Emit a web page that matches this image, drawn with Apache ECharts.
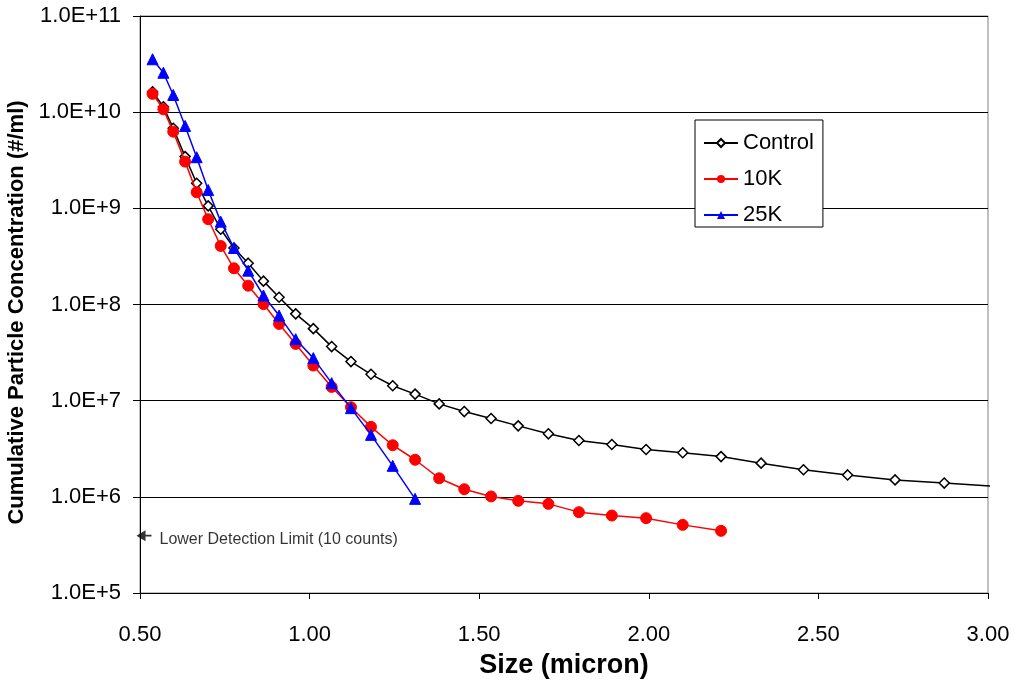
<!DOCTYPE html>
<html>
<head>
<meta charset="utf-8">
<script src="https://cdn.jsdelivr.net/npm/echarts@6/dist/echarts.min.js"></script>
<style>
  html, body { margin: 0; padding: 0; background: #fff; }
  #main { width: 1015px; height: 689px; }
</style>
</head>
<body>
<div id="main"></div>
<script>
// particle size channels (micron)
const sizes = [0.537, 0.569, 0.598, 0.633, 0.667, 0.701, 0.738, 0.777, 0.819, 0.864,
  0.910, 0.959, 1.011, 1.065, 1.122, 1.181, 1.245, 1.311, 1.382, 1.456,
  1.535, 1.615, 1.704, 1.794, 1.891, 1.992, 2.100, 2.213, 2.331, 2.456,
  2.586, 2.726, 2.871, 3.024]

const control = [1.63e10, 1.14e10, 6.8e9, 3.45e9, 1.82e9, 1.06e9, 6.06e8, 3.87e8, 2.69e8, 1.75e8,
  1.19e8, 7.99e7, 5.61e7, 3.65e7, 2.55e7, 1.88e7, 1.43e7, 1.17e7, 9.26e6, 7.70e6,
  6.52e6, 5.47e6, 4.52e6, 3.85e6, 3.50e6, 3.11e6, 2.87e6, 2.62e6, 2.24e6, 1.91e6,
  1.69e6, 1.50e6, 1.39e6, 1.28e6]

const tenK = [1.55e10, 1.07e10, 6.27e9, 3.06e9, 1.47e9, 7.71e8, 4.06e8, 2.38e8, 1.57e8, 1.01e8,
  6.28e7, 3.89e7, 2.32e7, 1.39e7, 8.55e6, 5.34e6, 3.44e6, 2.43e6, 1.56e6, 1.20e6,
  1.01e6, 9.09e5, 8.45e5, 6.93e5, 6.39e5, 6.00e5, 5.11e5, 4.43e5]

const twentyFiveK = [3.55e10, 2.57e10, 1.51e10, 7.19e9, 3.40e9, 1.55e9, 7.27e8, 3.87e8, 2.25e8, 1.24e8,
  7.67e7, 4.36e7, 2.77e7, 1.52e7, 8.36e6, 4.41e6, 2.10e6, 9.53e5]

const seriesNames = ['Control', '10K', '25K']
const detectionLimit = [0.5118, 3.94e5]
const detectionText = 'Lower Detection Limit (10 counts)'

function pairs(vals) {
  return vals.map((v, i) => [sizes[i], v])
}

const font = "'Liberation Sans', Arial, sans-serif"
const chart = echarts.init(document.getElementById('main'))

const option = {
  animation: false,
  backgroundColor: '#fff',
  textStyle: { fontFamily: font, color: '#000' },
  grid: {
    left: 140, right: 27, top: 16, bottom: 96,
    outerBoundsMode: 'none',
    show: true, borderColor: '#808080', borderWidth: 1, backgroundColor: '#fff'
  },
  legend: {
    data: seriesNames,
    orient: 'vertical',
    left: 695, top: 120,
    padding: [12, 9, 1, 8],
    itemGap: 14,
    itemWidth: 34, itemHeight: 10,
    borderColor: '#000', borderWidth: 1,
    backgroundColor: '#fff',
    textStyle: { fontSize: 22, color: '#000', fontFamily: font }
  },
  xAxis: {
    type: 'value',
    min: 0.5, max: 3.0, interval: 0.5,
    name: 'Size (micron)',
    nameLocation: 'middle',
    nameGap: 59,
    nameTextStyle: { fontSize: 27, fontWeight: 'bold', color: '#000' },
    axisLine: { lineStyle: { color: '#000' } },
    axisTick: { show: true, length: 6, lineStyle: { color: '#000' } },
    axisLabel: { fontSize: 22, color: '#000', margin: 31, formatter: v => v.toFixed(2) },
    splitLine: { show: false }
  },
  yAxis: {
    type: 'log',
    logBase: 10,
    min: 1e5, max: 1e11,
    name: 'Cumulative Particle Concentration (#/ml)',
    nameLocation: 'middle',
    nameGap: 107,
    // right padding pushes the rotated title a little below the axis centre
    nameTextStyle: { fontSize: 22, fontWeight: 'bold', color: '#000', padding: [0, 16, 0, 0] },
    axisLine: { show: true, lineStyle: { color: '#000' } },
    axisTick: { show: true, length: 7, lineStyle: { color: '#000' } },
    axisLabel: {
      fontSize: 22, color: '#000', margin: 19,
      formatter: v => v.toExponential(1).toUpperCase()
    },
    splitLine: { show: true, lineStyle: { color: '#000', width: 1 } }
  },
  series: [
    {
      name: 'Control', type: 'line', data: pairs(control),
      symbol: 'diamond', symbolSize: 10, showAllSymbol: true,
      itemStyle: { color: '#fff', borderColor: '#000', borderWidth: 1.5 },
      lineStyle: { color: '#000', width: 1.5 }, z: 3
    },
    {
      name: '10K', type: 'line', data: pairs(tenK),
      symbol: 'circle', symbolSize: 11, showAllSymbol: true,
      itemStyle: { color: '#ff0000', borderColor: '#ff0000' },
      lineStyle: { color: '#ff0000', width: 1.5 }, z: 4
    },
    {
      name: '25K', type: 'line', data: pairs(twentyFiveK),
      symbol: 'triangle', symbolSize: 11, showAllSymbol: true,
      itemStyle: { color: '#0000ff', borderColor: '#0000ff' },
      lineStyle: { color: '#0000ff', width: 1.5 }, z: 5
    },
    {
      name: 'limit', type: 'scatter', data: [detectionLimit],
      // left pointing arrow with a short tail
      symbol: 'path://M0,5 L9,0 L9,4.2 L15,4.2 L15,5.8 L9,5.8 L9,10 Z',
      symbolSize: [15, 11],
      itemStyle: { color: '#000' },
      label: {
        show: true, position: 'right', distance: 8, offset: [0, 4],
        formatter: detectionText, fontSize: 16, color: '#000', fontFamily: font
      },
      silent: true, z: 6
    }
  ]
}

option && chart.setOption(option)
</script>
</body>
</html>
